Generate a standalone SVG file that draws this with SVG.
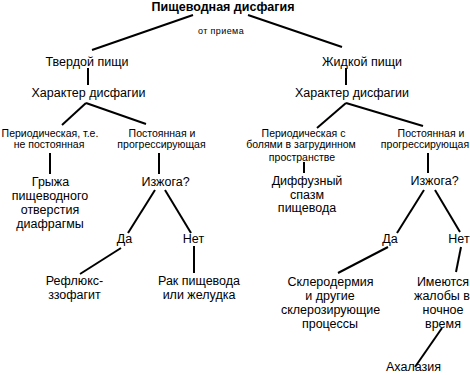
<svg xmlns="http://www.w3.org/2000/svg" width="470" height="375" viewBox="0 0 470 375">
<style>
text{font-family:"Liberation Sans",Arial,sans-serif;fill:#000;text-anchor:middle}
.t{font-size:12.5px;font-weight:bold}
.m{font-size:12.5px}
.s{font-size:10.5px}
.x{font-size:9px;letter-spacing:0.4px}
#connectors line{stroke:#000;stroke-width:2;stroke-linecap:butt}
</style>
<rect width="470" height="375" fill="#fff"/>
<g id="connectors">
<line x1="92" y1="50" x2="193" y2="15"/>
<line x1="248" y1="15" x2="342" y2="47"/>
<line x1="88" y1="68" x2="88" y2="85"/>
<line x1="346" y1="68" x2="346" y2="85"/>
<line x1="86" y1="103" x2="62" y2="125"/>
<line x1="86" y1="103" x2="146" y2="124"/>
<line x1="346" y1="103" x2="317" y2="128"/>
<line x1="346" y1="103" x2="423" y2="126"/>
<line x1="50" y1="153" x2="50" y2="174"/>
<line x1="159" y1="153" x2="159" y2="174"/>
<line x1="304" y1="162" x2="304" y2="173"/>
<line x1="428" y1="153" x2="428" y2="173"/>
<line x1="155" y1="190" x2="128" y2="233"/>
<line x1="165" y1="190" x2="191" y2="233"/>
<line x1="424" y1="190" x2="397" y2="233"/>
<line x1="435" y1="190" x2="460" y2="232"/>
<line x1="121" y1="248" x2="80" y2="274"/>
<line x1="194" y1="246" x2="194" y2="273"/>
<line x1="388" y1="247" x2="338" y2="273"/>
<line x1="461" y1="247" x2="456" y2="272"/>
<line x1="442" y1="328" x2="415" y2="367"/>
</g>
<g id="root"><text class="t" x="223" y="11">Пищеводная дисфагия</text></g>
<g id="label-intake"><text class="x" x="221" y="34">от приема</text></g>
<g id="solid"><text class="m" x="87" y="66">Твердой пищи</text></g>
<g id="liquid"><text class="m" x="362" y="66">Жидкой пищи</text></g>
<g id="char-left"><text class="m" x="88.5" y="97">Характер дисфагии</text></g>
<g id="char-right"><text class="m" x="352" y="97">Характер дисфагии</text></g>
<g id="periodic-left"><text class="s" x="50" y="137">Периодическая, т.е.</text><text class="s" x="49" y="148">не постоянная</text></g>
<g id="constant-left"><text class="s" x="162" y="137">Постоянная и</text><text class="s" x="161.5" y="148">прогрессирующая</text></g>
<g id="hernia"><text class="m" x="50.5" y="186">Грыжа</text><text class="m" x="50" y="200">пищеводного</text><text class="m" x="50" y="214">отверстия</text><text class="m" x="50" y="228">диафрагмы</text></g>
<g id="heartburn-left"><text class="m" x="165.5" y="186">Изжога?</text></g>
<g id="yes-left"><text class="m" x="124.5" y="243">Да</text></g>
<g id="no-left"><text class="m" x="193.5" y="243">Нет</text></g>
<g id="reflux"><text class="m" x="74.5" y="285">Рефлюкс-</text><text class="m" x="74.5" y="299">ззофагит</text></g>
<g id="cancer"><text class="m" x="199" y="285">Рак пищевода</text><text class="m" x="199" y="299">или желудка</text></g>
<g id="periodic-right"><text class="s" x="303.5" y="137">Периодическая с</text><text class="s" x="301" y="148">болями в загрудинном</text><text class="s" x="302" y="161">пространстве</text></g>
<g id="spasm"><text class="m" x="307" y="185">Диффузный</text><text class="m" x="307" y="199">спазм</text><text class="m" x="307" y="212">пищевода</text></g>
<g id="constant-right"><text class="s" x="431" y="137">Постоянная и</text><text class="s" x="425" y="148">прогрессирующая</text></g>
<g id="heartburn-right"><text class="m" x="434.5" y="185">Изжога?</text></g>
<g id="yes-right"><text class="m" x="390" y="243">Да</text></g>
<g id="no-right"><text class="m" x="459" y="243">Нет</text></g>
<g id="scleroderma"><text class="m" x="330.5" y="286">Склеродермия</text><text class="m" x="330" y="300">и другие</text><text class="m" x="330.5" y="314">склерозирующие</text><text class="m" x="330" y="328">процессы</text></g>
<g id="night"><text class="m" x="443" y="286">Имеются</text><text class="m" x="442" y="300">жалобы в</text><text class="m" x="443" y="314">ночное</text><text class="m" x="443" y="328">время</text></g>
<g id="achalasia"><text class="m" x="413.5" y="371">Ахалазия</text></g>
</svg>
